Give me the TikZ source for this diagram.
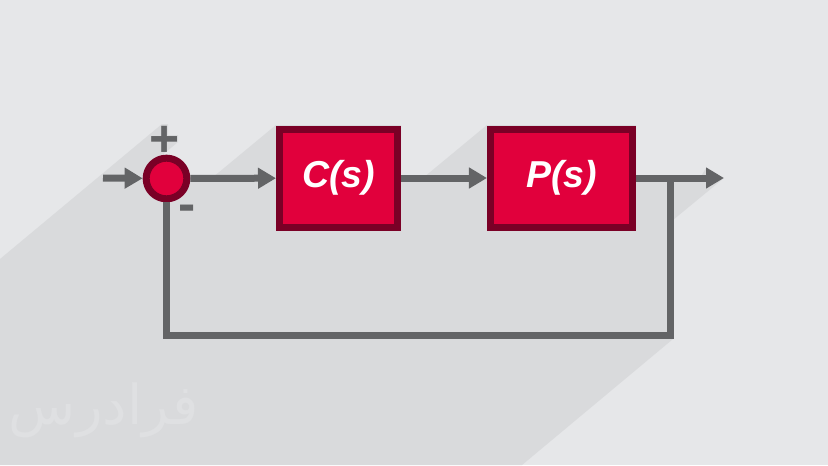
\documentclass[tikz,border=0pt]{standalone}
\usepackage{fontspec}
\setmainfont{Liberation Sans}
\newfontfamily\arabicfont[Script=Arabic]{DejaVu Sans}
\TeXXeTstate=1
\usetikzlibrary{arrows.meta}
\definecolor{bggray}{HTML}{E6E7E9}
\definecolor{shadowgray}{HTML}{D9DADC}
\definecolor{markgray}{HTML}{DFE0E2}
\definecolor{wiregray}{HTML}{636466}
\definecolor{blockred}{HTML}{E1003C}
\definecolor{blockdark}{HTML}{7A0026}
\begin{document}
\begin{tikzpicture}[x=0.03cm, y=-0.03cm,
  wire/.style={draw=wiregray, line width=0.21cm},
  sig/.style={wire, -{Triangle[length=0.54cm, width=0.6cm]}},
  blk/.style={draw=blockdark, fill=blockred, line width=0.21cm, text=white,
    font=\fontsize{32}{38}\selectfont\bfseries\itshape, minimum height=2.94cm},
  sumnode/.style={circle, draw=blockdark, fill=blockred, line width=0.21cm, minimum size=1.22cm, inner sep=0pt},
  sign/.style={text=wiregray, font=\fontsize{44}{50}\selectfont\bfseries, inner sep=0pt}]
\fill[bggray] (0,0) rectangle (828,465);
\useasboundingbox (0,0) rectangle (828,465);
% long shadow
\fill[shadowgray] (0,259) -- (162,124) -- (168,124) -- (168,135) -- (178,135) -- (178,142)
  -- (160,157) -- (185,170) -- (190,178) -- (212,178) -- (276,125) -- (401,125) -- (401,178)
  -- (423,178) -- (487,125) -- (636,125) -- (636,178) -- (700,178) -- (706,168) -- (724,178)
  -- (673,220) -- (673,339) -- (522,465) -- (0,465) -- cycle;
\node[text=markgray, font=\arabicfont\fontsize{47}{54}\selectfont, inner sep=0pt] (mark) at (104,410) {\beginR فرادرس\endR};
% blocks
\node[sumnode] (sum) at (166.5,178.5) {};
\node[blk, minimum width=3.54cm] (ctrl) at (338.5,178) {C(s)};
\node[blk, minimum width=4.26cm] (plant) at (561.5,178) {P(s)};
\node[sign] (plus) at (165,141) {+};
\node[sign] (minus) at (187.5,213) {-};
\coordinate (in) at (103,178);
\coordinate (out) at (724,178);
\coordinate (br) at (670,178);
\coordinate (fbr) at (670,335.5);
% signals
\draw[sig] (in) -- (sum);
\draw[sig] (sum) -- (ctrl);
\draw[sig] (ctrl) -- (plant);
\draw[sig] (plant) -- (out);
\draw[wire] (br) -- (fbr) -| (sum);
\end{tikzpicture}
\end{document}
